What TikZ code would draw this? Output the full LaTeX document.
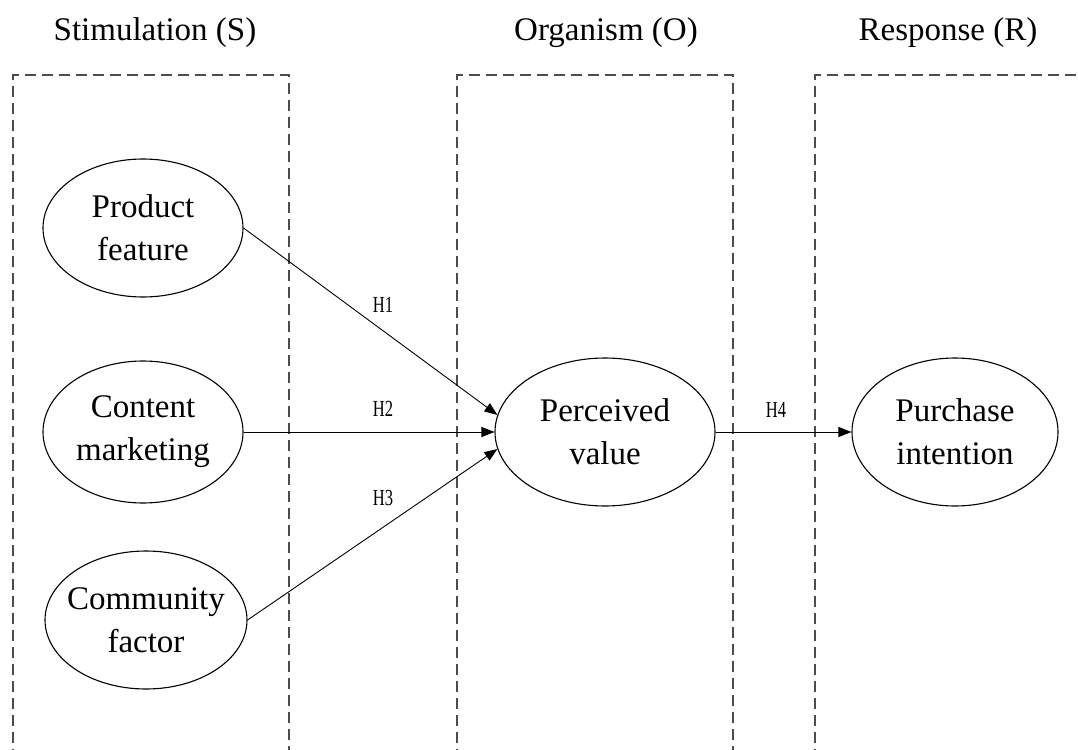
\documentclass[tikz,border=0pt]{standalone}
\usepackage{fontspec}
\usepackage{graphicx}
\setmainfont{Liberation Serif}
\usetikzlibrary{shapes.geometric,arrows.meta}
\tikzset{
  construct/.style={ellipse, draw=black, line width=1.1pt, inner sep=0pt},
  ctext/.style={align=center, inner sep=0pt, font=\fontsize{33}{43}\selectfont},
  head/.style={font=\fontsize{33}{40}\selectfont, inner sep=0pt},
  hlab/.style={inner sep=0pt, font=\fontsize{23}{23}\selectfont},
  frame/.style={draw=black!70, line width=1.5pt, dash pattern=on 11pt off 6pt},
  link/.style={draw=black, line width=0.9pt, -{Triangle[length=13pt,width=10pt]}}
}
\newcommand{\hl}[1]{\scalebox{0.72}[1]{#1}}
\begin{document}
\begin{tikzpicture}[x=1pt,y=-1pt]
\useasboundingbox (0,0) rectangle (1078,749);
\clip (0,0) rectangle (1078,749);
\fill[white] (0,0) rectangle (1078,749);
% frames
\draw[frame] (13,760) -- (13,75) -- (289,75) -- (289,760);
\draw[frame] (457,760) -- (457,75) -- (733,75) -- (733,760);
\draw[frame] (815,760) -- (815,75) -- (1090,75);
% headers
\node[head] (hS) at (155,33) {Stimulation (S)};
\node[head] (hO) at (606,33) {Organism (O)};
\node[head] (hR) at (948,33) {Response (R)};
% constructs
\node[construct, minimum width=200pt, minimum height=138pt] (pf) at (143,228) {};
\node[construct, minimum width=200pt, minimum height=142pt] (cm) at (143,432) {};
\node[construct, minimum width=202pt, minimum height=138pt] (cf) at (146,620) {};
\node[construct, minimum width=220pt, minimum height=148pt] (pv) at (605,432) {};
\node[construct, minimum width=206pt, minimum height=148pt] (pi) at (955,432) {};
\node[ctext] (pft) at (pf.center) {Product\\feature};
\node[ctext] (cmt) at (cm.center) {Content\\marketing};
\node[ctext] (cft) at (cf.center) {Community\\factor};
\node[ctext] (pvt) at (pv.center) {Perceived\\value};
\node[ctext] (pit) at (pi.center) {Purchase\\intention};
% connectors
\draw[link] (pf.east) -- (pv.171);
\draw[link] (cm.east) -- (pv.west);
\draw[link] (cf.east) -- (pv.189);
\draw[link] (pv.east) -- (pi.west);
% labels
\node[hlab] (h1) at (383,305) {\hl{H1}};
\node[hlab] (h2) at (383,409) {\hl{H2}};
\node[hlab] (h3) at (383,498) {\hl{H3}};
\node[hlab] (h4) at (776,410) {\hl{H4}};
\end{tikzpicture}
\end{document}
